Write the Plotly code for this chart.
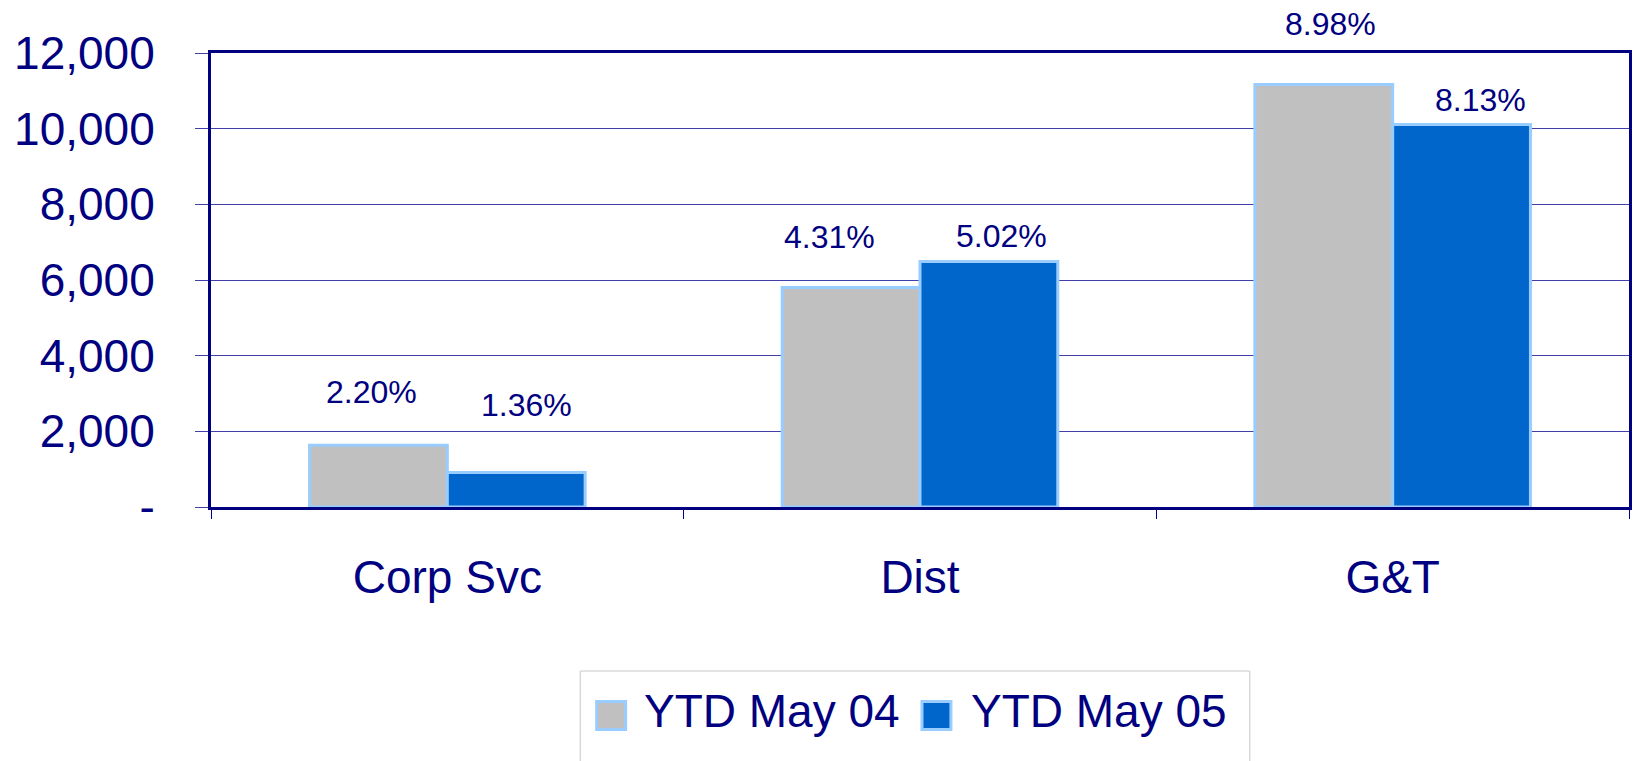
import plotly.graph_objects as go

# ── Data ─────────────────────────────────────────────────────────
categories = ["Corp Svc", "Dist", "G&T"]
series_names = ["YTD May 04", "YTD May 05"]
ytd_may_04 = [1630, 5800, 11170]
ytd_may_05 = [910, 6490, 10110]
pct_may_04 = ["2.20%", "4.31%", "8.98%"]
pct_may_05 = ["1.36%", "5.02%", "8.13%"]
y_tickvals = [0, 2000, 4000, 6000, 8000, 10000, 12000]
y_ticktext = ["-", "2,000", "4,000", "6,000", "8,000", "10,000", "12,000"]

# ── Style ────────────────────────────────────────────────────────
NAVY = "#000080"
GRAY = "#C0C0C0"
BLUE = "#0066CC"
EDGE = "#99CCFF"
GRID = "#4040A8"
FONT = "Liberation Sans, Arial, sans-serif"

# body margin is removed in the page (post_script), figure fills the window
W, H = 1638, 761
ML, MR, MT, MB = 211, 6, 53, 254
PW, PH = W - ML - MR, H - MT - MB

def px_x(px):
    # page pixel -> paper x
    return (px - ML) / PW

def px_y(py):
    # page pixel -> paper y
    return (MT + PH - py) / PH

# label nudges in px (xshift from bar centre, yshift above bar top)
BAR_HALF = 69
shift_04 = [(-7, 53), (-22, 51), (7, 60)]
shift_05 = [(10, 68), (12, 25), (19, 25)]

fig = go.Figure()
for name, vals, color in [(series_names[0], ytd_may_04, GRAY),
                          (series_names[1], ytd_may_05, BLUE)]:
    fig.add_trace(go.Bar(
        x=categories, y=vals, name=name,
        marker=dict(color=color, line=dict(color=EDGE, width=3)),
        showlegend=False, hoverinfo="skip",
    ))

annotations = []
for cat, v, t, (dx, dy) in zip(categories, ytd_may_04, pct_may_04, shift_04):
    annotations.append(dict(x=cat, y=v, text=t, showarrow=False,
                            xshift=-BAR_HALF + dx, yshift=dy,
                            font=dict(size=32, color=NAVY, family=FONT)))
for cat, v, t, (dx, dy) in zip(categories, ytd_may_05, pct_may_05, shift_05):
    annotations.append(dict(x=cat, y=v, text=t, showarrow=False,
                            xshift=BAR_HALF + dx, yshift=dy,
                            font=dict(size=32, color=NAVY, family=FONT)))

# custom legend (big swatches like the original)
shapes = [dict(type="rect", xref="paper", yref="paper",
               x0=px_x(581), x1=px_x(1252), y0=px_y(671), y1=px_y(790),
               line=dict(color="#C8C8C8", width=1), fillcolor="white", layer="below")]
for (sx, tx), name, color in zip([(597.5, 643), (923.5, 971)], series_names, [GRAY, BLUE]):
    shapes.append(dict(type="rect", xref="paper", yref="paper",
                       x0=px_x(sx), x1=px_x(sx + 29), y0=px_y(729.5), y1=px_y(701.5),
                       line=dict(color=EDGE, width=3), fillcolor=color))
    annotations.append(dict(xref="paper", yref="paper", x=px_x(tx), y=px_y(711),
                            xanchor="left", yanchor="middle", text=name, showarrow=False,
                            font=dict(size=46, color=NAVY, family=FONT)))

fig.update_layout(
    width=W, height=H,
    margin=dict(l=ML, r=MR, t=MT, b=MB),
    paper_bgcolor="white", plot_bgcolor="white",
    barmode="group", bargap=0.417, bargroupgap=0,
    font=dict(family=FONT, color=NAVY, size=46),
    annotations=annotations, shapes=shapes,
    xaxis=dict(
        showline=True, mirror=True, linecolor=NAVY, linewidth=3,
        ticks="outside", tickson="boundaries", ticklen=9, tickwidth=1, tickcolor=NAVY,
        tickfont=dict(size=46, color=NAVY), ticklabelstandoff=28,
        showgrid=False,
    ),
    yaxis=dict(
        range=[0, 12000], tickvals=y_tickvals, ticktext=y_ticktext,
        showline=True, mirror=True, linecolor=NAVY, linewidth=3,
        ticks="outside", ticklen=13, tickwidth=1, tickcolor=GRID,
        tickfont=dict(size=46, color=NAVY), ticklabelstandoff=31,
        showgrid=True, gridcolor=GRID, gridwidth=1,
        zeroline=False,
    ),
)

fig.write_html("out.html", config={"displayModeBar": False},
               post_script="document.body.style.margin='0'; document.body.style.overflow='hidden';")
